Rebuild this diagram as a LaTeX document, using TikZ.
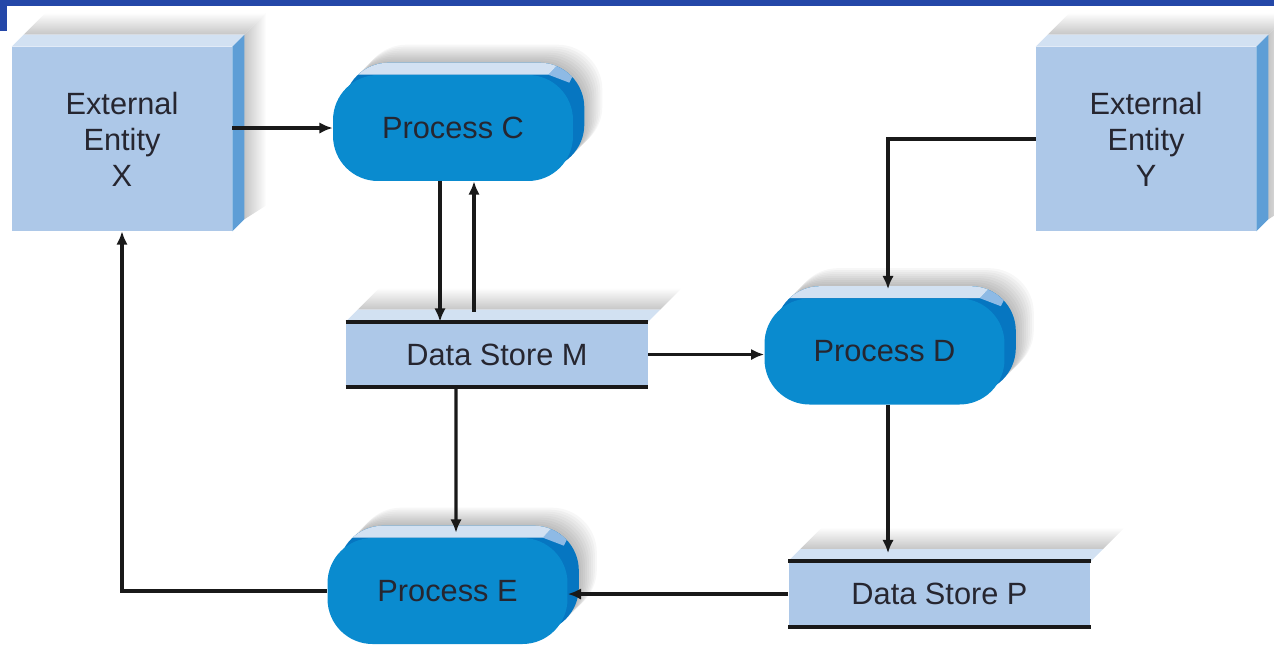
\documentclass[tikz,border=0pt]{standalone}
\usepackage{fontspec}
\setmainfont{Liberation Sans}
\usetikzlibrary{positioning,calc,arrows.meta,backgrounds}

\definecolor{barblue}{HTML}{2447A8}
\definecolor{faceblue}{HTML}{ADC8E8}
\definecolor{topblue}{HTML}{D2E1F2}
\definecolor{sideblue}{HTML}{5E9ED6}
\definecolor{procblue}{HTML}{0A8BCF}
\definecolor{procdark}{HTML}{0676C1}
\definecolor{procmid}{HTML}{8EBAE5}
\definecolor{inkgray}{HTML}{262630}

\newcommand{\dfdfont}{\fontsize{17.5}{20.5}\selectfont}

\tikzset{
  entity/.style={rectangle, fill=faceblue, minimum width=4.4cm, minimum height=3.68cm,
    inner sep=0pt, align=center, font=\dfdfont, text=inkgray},
  process/.style={rectangle, rounded corners=0.9cm, fill=procblue, minimum width=4.8cm,
    minimum height=2.12cm, inner sep=0pt, font=\dfdfont, text=inkgray},
  store/.style={rectangle, fill=faceblue, minimum width=6.04cm, minimum height=1.3cm,
    inner sep=0pt, font=\dfdfont, text=inkgray},
  flow/.style={line width=1.8pt, draw=black!90, -{Latex[length=7.5pt,width=6.5pt]}},
  storeline/.style={line width=2.2pt, black!90},
}

\begin{document}
\begin{tikzpicture}[x=0.02cm, y=-0.02cm]
  \useasboundingbox (0,0) rectangle (1274,647);

  % Barra superior
  \fill[barblue] (0,0) rectangle (1274,6);
  \fill[barblue] (0,0) rectangle (7,31);

  % Entidades externas
  \node[entity] (ex) at (122,139) {External\\Entity\\X};
  \node[entity] (ey) at (1146,139) {External\\Entity\\Y};

  % Procesos
  \node[process] (pc) at (453,128) {Process C};
  \node[process] (pd) at (884.5,351.5) {Process D};
  \node[process] (pe) at (447.5,591) {Process E};

  % Almacenes de datos
  \node[store] (dm) at (497,354.5) {Data Store M};
  \node[store] (dp) at (939.5,594) {Data Store P};

  \begin{scope}[on background layer]
    % Sombras y caras de las entidades
    \foreach \n in {ex,ey}{
      \shade[top color=white, bottom color=gray!45]
        ($(\n.north west)+(12,-12)$) -- ($(\n.north west)+(34,-34)$) --
        ($(\n.north east)+(34,-34)$) -- ($(\n.north east)+(12,-12)$) -- cycle;
      \shade[left color=gray!45, right color=white]
        ($(\n.north east)+(12,-12)$) -- ($(\n.north east)+(34,-34)$) --
        ($(\n.south east)+(34,-26)$) -- ($(\n.south east)+(12,-12)$) -- cycle;
      \fill[topblue] (\n.north west) -- ++(12,-12) -- ($(\n.north east)+(12,-12)$) -- (\n.north east) -- cycle;
      \fill[sideblue] (\n.north east) -- ++(12,-12) -- ($(\n.south east)+(12,-12)$) -- (\n.south east) -- cycle;
    }
    % Sombras y caras de los procesos
    \foreach \p in {pc,pd,pe}{
      \foreach \k in {1,...,9}
        \fill[black, opacity=0.03, rounded corners=0.9cm]
          ($(\p.south west)+({11+2*\k},{-12-2*\k})$) rectangle ($(\p.north east)+({11+2*\k},{-12-2*\k})$);
      \fill[procdark, rounded corners=0.9cm] ($(\p.south west)+(11,-12)$) rectangle ($(\p.north east)+(11,-12)$);
      \begin{scope}
        \clip[rounded corners=0.9cm] ($(\p.south west)+(11,-12)$) rectangle ($(\p.north east)+(11,-12)$);
        \fill[procmid] ($(\p.north east)+(-25,0)$) -- ++(11,-12) -- ++(20,0) -- ($(\p.north east)+(-4,8)$) -- cycle;
        \fill[topblue] (\p.north west) -- ++(11,-12) -- ($(\p.north east)+(-14,-12)$) -- ($(\p.north east)+(-25,0)$) -- cycle;
      \end{scope}
    }
    % Sombras y caras de los almacenes
    \foreach \s in {dm,dp}{
      \shade[top color=white, bottom color=gray!45]
        ($(\s.north west)+(12,-12)$) -- ($(\s.north west)+(34,-34)$) --
        ($(\s.north east)+(34,-34)$) -- ($(\s.north east)+(12,-12)$) -- cycle;
      \fill[topblue] (\s.north west) -- ++(12,-12) -- ($(\s.north east)+(12,-12)$) -- (\s.north east) -- cycle;
    }
  \end{scope}

  % Lineas de los almacenes
  \foreach \s in {dm,dp}{
    \draw[storeline] (\s.north west) -- (\s.north east);
    \draw[storeline] (\s.south west) -- (\s.south east);
  }

  % Flujos de datos
  \draw[flow] (ex.east |- pc.west) -- (pc.west);
  \draw[flow] ($(pc.south)+(-13,0)$) -- ($(pc.south |- dm.north)+(-13,0)$);
  \draw[flow] ($(dm.north)+(-23,-10)$) -- ($(pc.south)+(21,0)$);
  \draw[flow] (ey.west) -| ($(pd.north)+(3.5,-9)$);
  \draw[flow] (dm.east) -- (dm.east -| pd.west);
  \draw[flow] ($(dm.south)+(-41,0)$) -- ($(pe.north)+(8.5,-5)$);
  \draw[flow] ($(pd.south)+(3.5,0)$) -- ($(pd.south |- dp.north)+(3.5,-8)$);
  \draw[flow] (dp.west) -- (dp.west -| pe.east);
  \draw[flow] (pe.west) -| (ex.south);
\end{tikzpicture}
\end{document}
